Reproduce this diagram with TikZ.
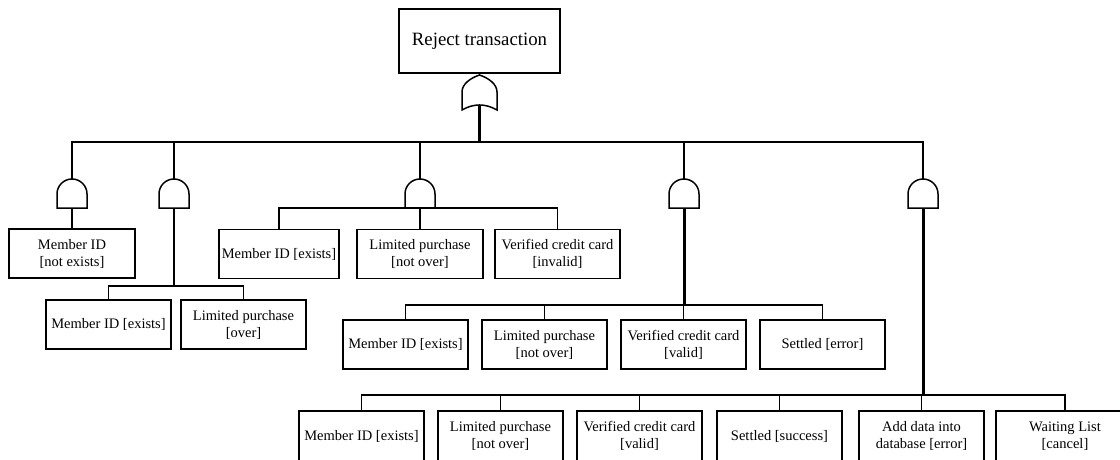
\documentclass[tikz,border=0pt]{standalone}
\usepackage{fontspec}
\setmainfont{Liberation Serif}
\begin{document}
\begin{tikzpicture}[x=1pt,y=-1pt,
  event/.style={draw, line width=1.6pt, minimum width=125pt, minimum height=49pt,
    inner sep=0pt, align=center, font=\fontsize{14.5}{17}\selectfont},
  topevent/.style={draw, line width=1.6pt, minimum width=161pt, minimum height=64pt,
    inner sep=0pt, align=center, font=\fontsize{18.8}{22}\selectfont},
  wire/.style={line width=1.5pt},
  stem/.style={line width=3pt},
  gateline/.style={line width=1.5pt, fill=white},
  andgate/.pic={
    \draw[gateline] (-15,0) -- (-15,-14)
      .. controls (-15,-22.3) and (-8.3,-29) .. (0,-29)
      .. controls (8.3,-29) and (15,-22.3) .. (15,-14) -- (15,0) -- cycle;
    \coordinate (-in) at (0,-29);
    \coordinate (-out) at (0,0);
  },
  orgate/.pic={
    \draw[gateline] (-17.5,0) -- (-17.5,-18)
      .. controls (-17.5,-26) and (-9,-32) .. (0,-35)
      .. controls (9,-32) and (17.5,-26) .. (17.5,-18) -- (17.5,0)
      .. controls (6,-6.7) and (-6,-6.7) .. (-17.5,0) -- cycle;
    \coordinate (-in) at (0,-35);
    \coordinate (-out) at (0,-5);
  }]
\useasboundingbox (0,0) rectangle (1120,459);

% top event and its OR gate
\node[topevent] (top) at (479.5,41) {Reject transaction};
\pic (orr) at (479.5,110) {orgate};
\coordinate (bus) at (479.5,142);

% AND gates under the OR gate
\pic (g1) at (72,208) {andgate};
\pic (g2) at (174,208) {andgate};
\pic (g3) at (420,208) {andgate};
\pic (g4) at (684,208) {andgate};
\pic (g5) at (923,208) {andgate};

% basic events
\node[event, minimum width=126pt] (m1) at (72,253.5) {Member ID\\{[not exists]}};

\node[event] (m2a) at (108.5,324.5) {Member ID [exists]};
\node[event] (m2b) at (243.5,324.5) {Limited purchase\\{[over]}};

\node[event, minimum width=120pt] (m3a) at (279,254) {Member ID [exists]};
\node[event, minimum width=126pt] (m3b) at (420,254) {Limited purchase\\{[not over]}};
\node[event] (m3c) at (557.5,254) {Verified credit card\\{[invalid]}};

\node[event] (m4a) at (405.5,344.5) {Member ID [exists]};
\node[event] (m4b) at (544.5,344.5) {Limited purchase\\{[not over]}};
\node[event] (m4c) at (683.5,344.5) {Verified credit card\\{[valid]}};
\node[event] (m4d) at (822.5,344.5) {Settled [error]};

\node[event, minimum height=50pt] (m5a) at (361.5,436) {Member ID [exists]};
\node[event, minimum height=50pt] (m5b) at (500.5,436) {Limited purchase\\{[not over]}};
\node[event, minimum height=50pt] (m5c) at (639.5,436) {Verified credit card\\{[valid]}};
\node[event, minimum height=50pt] (m5d) at (779.5,436) {Settled [success]};
\node[event, minimum height=50pt] (m5e) at (921.5,436) {Add data into\\database [error]};
\node[event, minimum height=50pt, minimum width=138pt] (m5f) at (1065,436) {Waiting List\\{[cancel]}};

% connectors
\draw[wire] (top.south) -- (orr-in);
\draw[stem] (orr-out) -- (bus);
\foreach \g in {g1,g2,g3,g4,g5}
  \draw[wire] (bus) -| (\g-in);

\draw[wire] (g1-out) -- (m1.north);

\coordinate (j2) at (174,286);
\draw[wire] (g2-out) -- (j2);
\foreach \n in {m2a,m2b} \draw[wire] (j2) -| (\n.north);

\foreach \n in {m3a,m3b,m3c} \draw[wire] (g3-out) -| (\n.north);

\coordinate (j4) at (684,305);
\draw[stem] (g4-out) -- (j4);
\foreach \n in {m4a,m4b,m4c,m4d} \draw[wire] (j4) -| (\n.north);

\coordinate (j5) at (923,395);
\draw[stem] (g5-out) -- (j5);
\foreach \n in {m5a,m5b,m5c,m5d,m5e,m5f} \draw[wire] (j5) -| (\n.north);
\end{tikzpicture}
\end{document}
